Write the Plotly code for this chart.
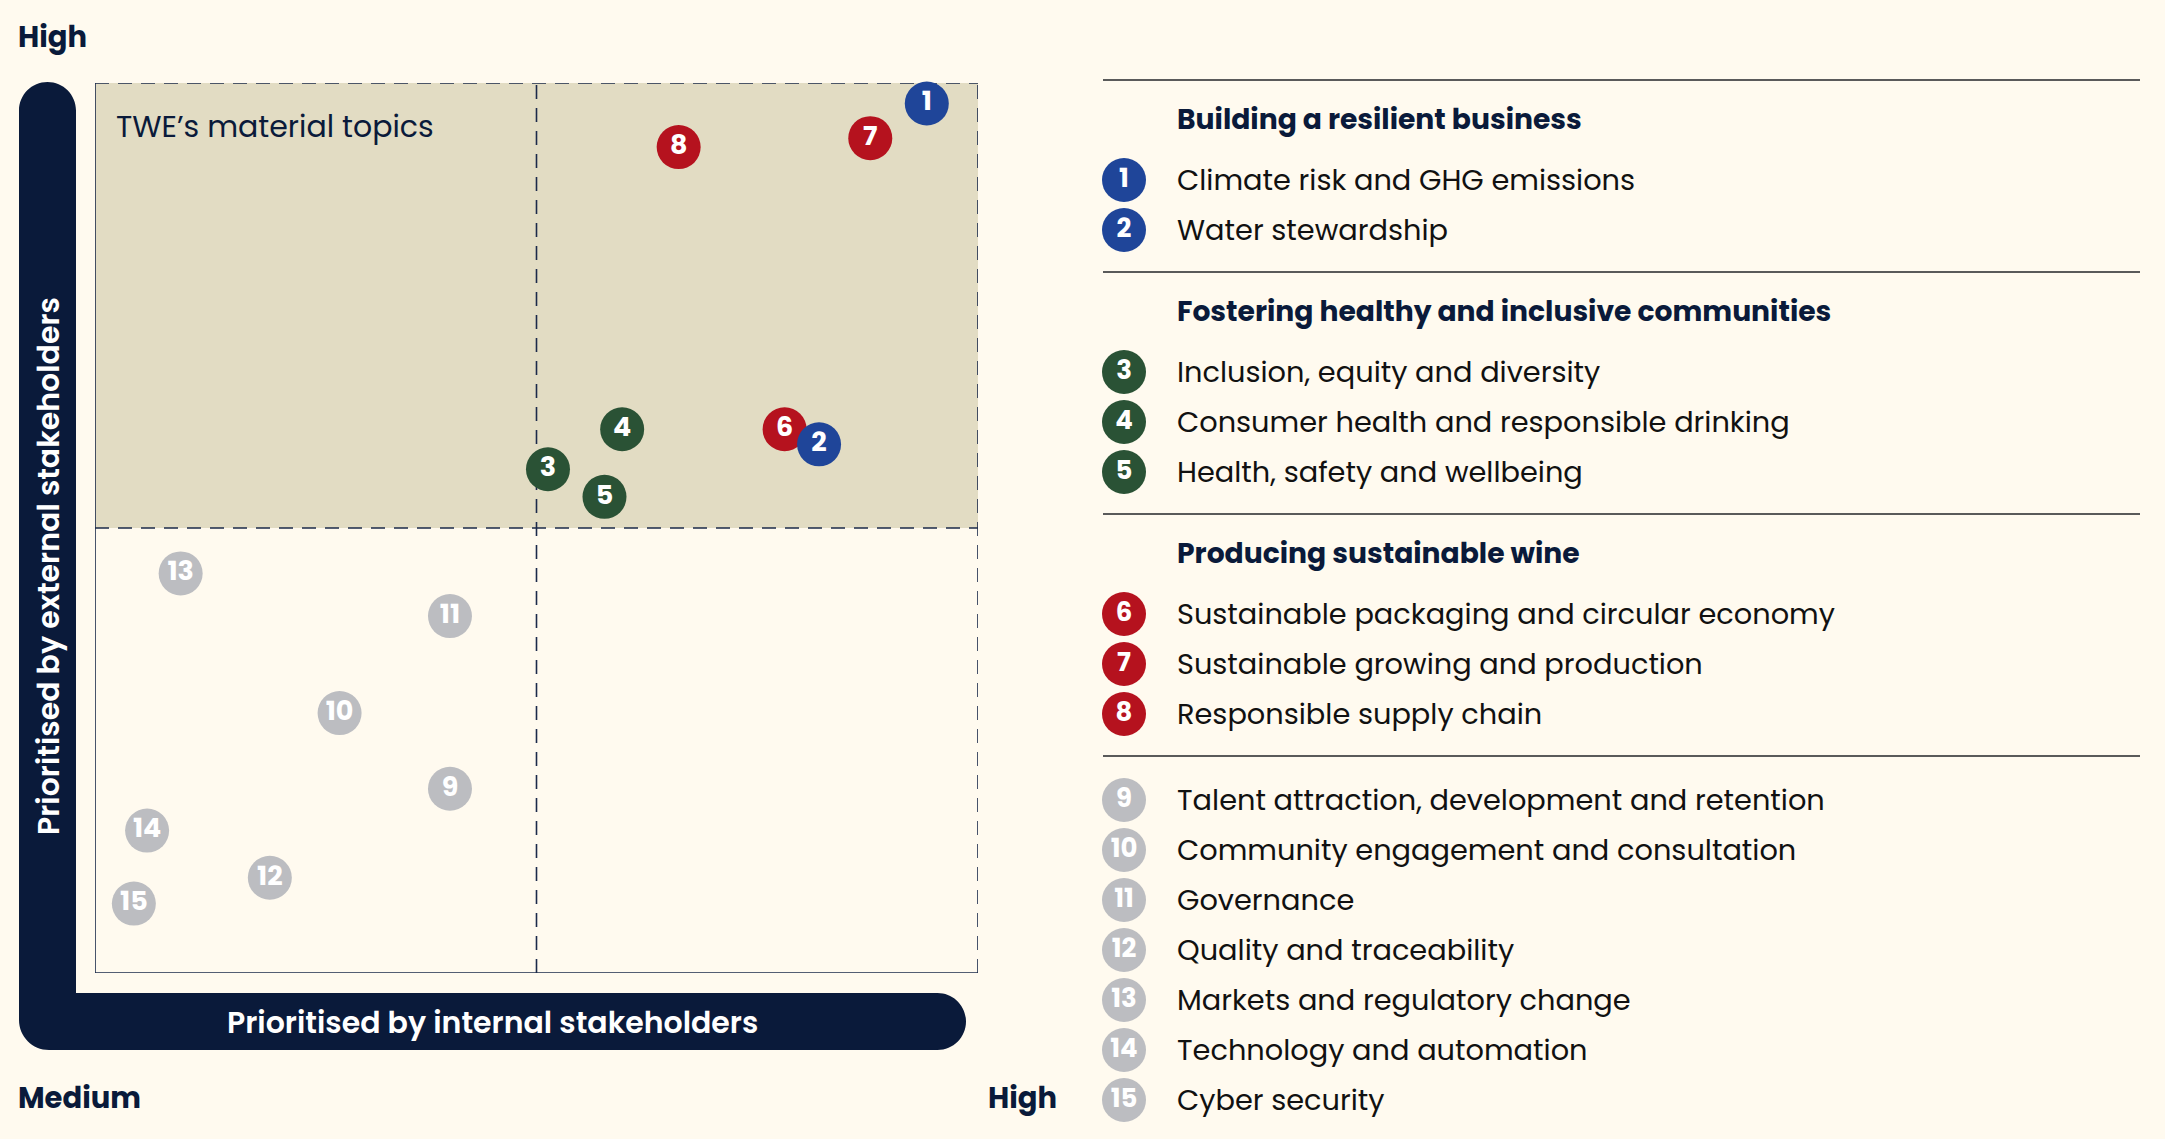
import plotly.graph_objects as go

# ---------------- data ----------------
topic_ids = list(range(1, 16))
topic_names = [
    "Climate risk and GHG emissions",
    "Water stewardship",
    "Inclusion, equity and diversity",
    "Consumer health and responsible drinking",
    "Health, safety and wellbeing",
    "Sustainable packaging and circular economy",
    "Sustainable growing and production",
    "Responsible supply chain",
    "Talent attraction, development and retention",
    "Community engagement and consultation",
    "Governance",
    "Quality and traceability",
    "Markets and regulatory change",
    "Technology and automation",
    "Cyber security",
]
# priority by internal stakeholders (x) and by external stakeholders (y), 0-10 scale
internal = [9.42, 8.20, 5.13, 5.97, 5.77, 7.81, 8.78, 6.61, 4.02, 2.77, 4.02, 1.98, 0.97, 0.59, 0.44]
external = [9.77, 5.94, 5.66, 6.11, 5.35, 6.11, 9.38, 9.28, 2.07, 2.92, 4.01, 1.07, 4.49, 1.60, 0.78]
topic_group = [0, 0, 1, 1, 1, 2, 2, 2, 3, 3, 3, 3, 3, 3, 3]

group_titles = ["Building a resilient business",
                "Fostering healthy and inclusive communities",
                "Producing sustainable wine",
                None]
group_colors = ["#1f4599", "#2a5235", "#b5121e", "#bcbdc1"]

x_label = "Prioritised by internal stakeholders"
y_label = "Prioritised by external stakeholders"
corner_labels = {"top": "High", "bottom_left": "Medium", "bottom_right": "High"}
box_title = "TWE\u2019s material topics"

# ---------------- style ----------------
W, H = 2165, 1139
BG = "#fffaef"
NAVY = "#0a1a3a"
SHADE = "#e2dcc3"
FONT = "Poppins, Inter, 'Open Sans', sans-serif"
PL, PR, PT, PB = 95, 978, 83, 973  # plot box in pixels

fig = go.Figure()

# plot markers (drawn in reverse so low ids sit on top)
order = list(range(len(topic_ids)))[::-1]
fig.add_trace(go.Scatter(
    x=[internal[i] for i in order],
    y=[external[i] for i in order],
    mode="markers+text",
    text=[str(topic_ids[i]) for i in order],
    textposition="middle center",
    textfont=dict(family=FONT, size=27, color="white", weight="bold"),
    marker=dict(size=44, color=[group_colors[topic_group[i]] for i in order], line=dict(width=0)),
    hoverinfo="skip", showlegend=False, cliponaxis=False,
    xaxis="x", yaxis="y",
))

# ---------------- legend (pixel coordinate layer) ----------------
LX_LINE0, LX_LINE1 = 1103, 2140
LX_CIRC, LX_TEXT = 1124, 1175
shapes = []
annotations = []
leg_x, leg_y, leg_t, leg_c = [], [], [], []
y = 80
for g, title in enumerate(group_titles):
    shapes.append(dict(type="line", xref="x2", yref="y2", x0=LX_LINE0, x1=LX_LINE1, y0=y, y1=y,
                       line=dict(color="#5a5a5a", width=2)))
    if title:
        annotations.append(dict(xref="x2", yref="y2", x=LX_TEXT, y=y + 39, text=title, showarrow=False,
                                xanchor="left", yanchor="middle",
                                font=dict(family=FONT, size=28.2, color=NAVY, weight="bold")))
        yi = y + 100
    else:
        yi = y + 44
    members = [i for i in range(len(topic_ids)) if topic_group[i] == g]
    for k, i in enumerate(members):
        leg_x.append(LX_CIRC)
        leg_y.append(yi)
        leg_t.append(str(topic_ids[i]))
        leg_c.append(group_colors[g])
        annotations.append(dict(xref="x2", yref="y2", x=LX_TEXT, y=yi, text=topic_names[i], showarrow=False,
                                xanchor="left", yanchor="middle",
                                font=dict(family=FONT, size=28.8, color="#111111")))
        if k < len(members) - 1:
            yi += 50
    y = yi + 42

fig.add_trace(go.Scatter(
    x=leg_x, y=leg_y, mode="markers+text", text=leg_t, textposition="middle center",
    textfont=dict(family=FONT, size=26, color="white", weight="bold"),
    marker=dict(size=44, color=leg_c, line=dict(width=0)),
    hoverinfo="skip", showlegend=False, cliponaxis=False, xaxis="x2", yaxis="y2",
))

# ---------------- plot box ----------------
shapes.append(dict(type="rect", xref="x", yref="y", x0=0, x1=10, y0=5, y1=10,
                   fillcolor=SHADE, line=dict(width=0), layer="below"))
dash = "14px,9px"
lc = "#1b2a4a"
for (x0, y0, x1, y1, d) in [(0, 0, 0, 10, "solid"), (0, 0, 10, 0, "solid"),
                            (0, 10, 10, 10, dash), (10, 0, 10, 10, dash),
                            (5, 0, 5, 10, dash), (0, 5, 10, 5, dash)]:
    shapes.append(dict(type="line", xref="x", yref="y", x0=x0, y0=y0, x1=x1, y1=y1,
                       line=dict(color=lc, width=1.6, dash=d), layer="below"))

# L-shaped axis bar (pixel coordinates)
k = 0.5523
r = 28.5
cxt, cyt = 47.5, 82 + r
cxr, cyr = 966 - r, 993 + r
rc = 30
path = (f"M 19,{cyt} C 19,{cyt - k*r} {cxt - k*r},82 {cxt},82 "
        f"C {cxt + k*r},82 76,{cyt - k*r} 76,{cyt} "
        f"L 76,993 L {cxr},993 "
        f"C {cxr + k*r},993 966,{cyr - k*r} 966,{cyr} "
        f"C 966,{cyr + k*r} {cxr + k*r},1050 {cxr},1050 "
        f"L {19 + rc},1050 C {19 + rc - k*rc},1050 19,{1050 - rc + k*rc} 19,{1050 - rc} Z")
shapes.append(dict(type="path", xref="x2", yref="y2", path=path, fillcolor=NAVY, line=dict(width=0)))

annotations += [
    dict(xref="x2", yref="y2", x=492, y=1022, text=x_label, showarrow=False,
         font=dict(family=FONT, size=30, color="white", weight=600)),
    dict(xref="x2", yref="y2", x=48, y=566, text=y_label, showarrow=False, textangle=-90,
         font=dict(family=FONT, size=30, color="white", weight=600)),
    dict(xref="x2", yref="y2", x=16, y=37, text=corner_labels["top"], showarrow=False,
         xanchor="left", yanchor="middle", font=dict(family=FONT, size=29, color=NAVY, weight="bold")),
    dict(xref="x2", yref="y2", x=16, y=1098, text=corner_labels["bottom_left"], showarrow=False,
         xanchor="left", yanchor="middle", font=dict(family=FONT, size=29, color=NAVY, weight="bold")),
    dict(xref="x2", yref="y2", x=1059, y=1098, text=corner_labels["bottom_right"], showarrow=False,
         xanchor="right", yanchor="middle", font=dict(family=FONT, size=29, color=NAVY, weight="bold")),
    dict(xref="x2", yref="y2", x=114, y=126, text=box_title, showarrow=False,
         xanchor="left", yanchor="middle", font=dict(family=FONT, size=30, color=NAVY)),
]

hidden = dict(visible=False, showgrid=False, zeroline=False, fixedrange=True)
fig.update_layout(
    width=W, height=H, margin=dict(l=0, r=0, t=0, b=0),
    paper_bgcolor=BG, plot_bgcolor="rgba(0,0,0,0)",
    xaxis=dict(domain=[PL / W, PR / W], range=[0, 10], **hidden),
    yaxis=dict(domain=[1 - PB / H, 1 - PT / H], range=[0, 10], **hidden),
    xaxis2=dict(domain=[0, 1], range=[0, W], anchor="y2", **hidden),
    yaxis2=dict(domain=[0, 1], range=[H, 0], anchor="x2", **hidden),
    shapes=shapes, annotations=annotations, showlegend=False,
)

fig.write_html("out.html")
